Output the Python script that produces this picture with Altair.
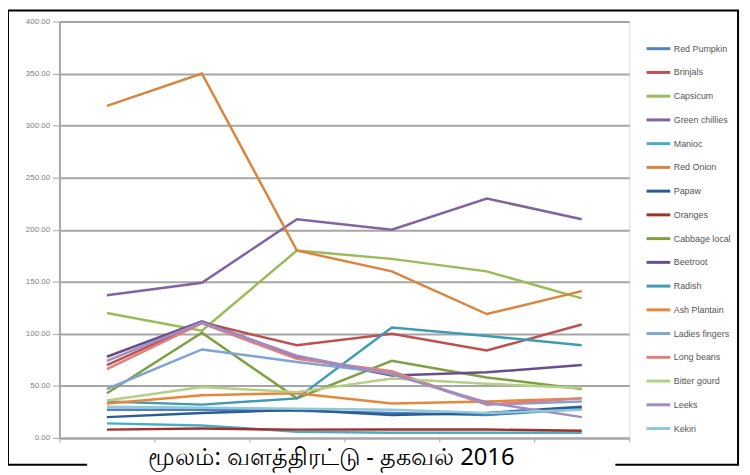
import altair as alt
import pandas as pd

periods = ["P1", "P2", "P3", "P4", "P5", "P6"]

series_names = [
    "Red Pumpkin", "Brinjals", "Capsicum", "Green chillies", "Manioc", "Red Onion",
    "Papaw", "Oranges", "Cabbage local", "Beetroot", "Radish", "Ash Plantain",
    "Ladies fingers", "Long beans", "Bitter gourd", "Leeks", "Kekiri",
]

series_colors = [
    "#4F81BD", "#C0504D", "#9BBB59", "#8064A2", "#4BACC6", "#D9843F",
    "#2C5C95", "#A0302C", "#7FA040", "#6A4E8C", "#3E9BB3", "#E8873A",
    "#7FA3D3", "#D98280", "#B5CF86", "#A08CC0", "#8FC8D8",
]

red_pumpkin = [27, 27, 26, 24, 22, 28]
brinjals = [70, 111, 89, 100, 84, 109]
capsicum = [120, 103, 180, 172, 160, 134]
green_chillies = [137, 149, 210, 200, 230, 210]
manioc = [14, 12, 6, 5, 5, 5]
red_onion = [319, 350, 180, 160, 119, 141]
papaw = [20, 24, 27, 22, 24, 30]
oranges = [8, 9, 8, 8, 8, 7]
cabbage = [43, 101, 38, 74, 58, 47]
beetroot = [78, 112, 78, 60, 63, 70]
radish = [35, 32, 38, 106, 98, 89]
ash_plantain = [33, 41, 43, 33, 35, 38]
ladies_fingers = [47, 85, 73, 62, 32, 35]
long_beans = [66, 110, 76, 64, 32, 38]
bitter_gourd = [36, 49, 44, 57, 52, 48]
leeks = [74, 111, 79, 61, 34, 20]
kekiri = [30, 29, 28, 27, 24, 27]

all_values = [
    red_pumpkin, brinjals, capsicum, green_chillies, manioc, red_onion,
    papaw, oranges, cabbage, beetroot, radish, ash_plantain,
    ladies_fingers, long_beans, bitter_gourd, leeks, kekiri,
]

y_ticks = [0, 50, 100, 150, 200, 250, 300, 350, 400]
source_text = "மூலம்: வளத்திரட்டு - தகவல் 2016"

rows = []
for name, vals in zip(series_names, all_values):
    for p, v in zip(periods, vals):
        rows.append({"period": p, "item": name, "price": v})
df = pd.DataFrame(rows)

one = pd.DataFrame({"k": [0]})

lines = alt.Chart(df).mark_line(strokeWidth=2.5).encode(
    x=alt.X("period:O", sort=periods,
            scale=alt.Scale(type="band", paddingInner=0, paddingOuter=0),
            axis=alt.Axis(title=None, labels=False, ticks=True, tickBand="extent",
                          tickSize=4, tickColor="#a6a6a6", domainColor="#a6a6a6",
                          domainWidth=2, grid=False)),
    y=alt.Y("price:Q", scale=alt.Scale(domain=[0, 400], nice=False),
            axis=alt.Axis(title=None, values=y_ticks, format=".2f", labelFontSize=8,
                          labelColor="#808080", tickSize=7, tickColor="#a6a6a6",
                          domainColor="#a6a6a6", domainWidth=2, gridColor="#a6a6a6",
                          gridWidth=2, labelPadding=3, labelFont="Liberation Sans")),
    color=alt.Color("item:N", sort=series_names,
                    scale=alt.Scale(domain=series_names, range=series_colors),
                    legend=alt.Legend(title=None, orient="none", legendX=592, legendY=14,
                                      symbolType="stroke", symbolSize=576,
                                      symbolStrokeWidth=3, rowPadding=4,
                                      labelFontSize=9, labelColor="#555555",
                                      labelOffset=2, labelLimit=200,
                                      labelFont="Liberation Sans")),
    detail="item:N",
)

frame = alt.Chart(one).mark_rect(fillOpacity=0, stroke="black", strokeWidth=2).encode(
    x=alt.value(-52), x2=alt.value(686), y=alt.value(-11), y2=alt.value(448)
)

cover = alt.Chart(one).mark_rect(fill="white", stroke=None).encode(
    x=alt.value(28), x2=alt.value(562), y=alt.value(429), y2=alt.value(480)
)

caption = alt.Chart(one).mark_text(
    text=source_text, fontSize=24, align="center", baseline="alphabetic",
    color="black", font="Noto Sans"
).encode(x=alt.value(275), y=alt.value(448))

chart = alt.layer(frame, lines, cover, caption).properties(
    width=576, height=421,
    padding={"left": 52, "top": 11, "right": 114, "bottom": 50},
    autosize=alt.AutoSizeParams(type="none"),
).configure_view(stroke=None).configure(background="white")

chart.save("out.html", embed_options={"renderer": "svg", "actions": False})
